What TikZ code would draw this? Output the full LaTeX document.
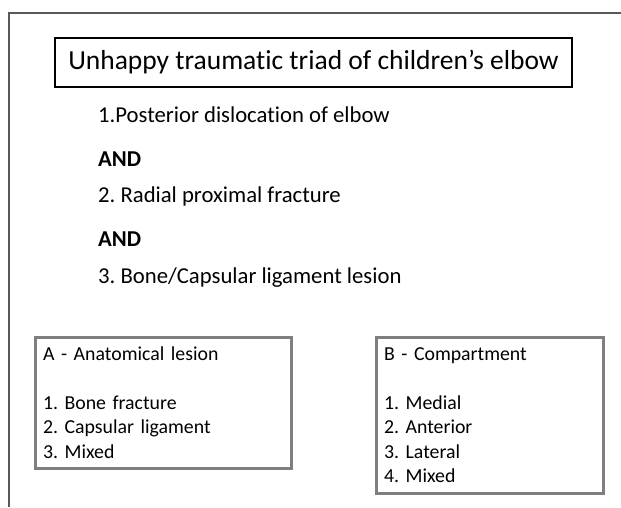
\documentclass[tikz,border=0pt]{standalone}
\usepackage{fontspec}
\setmainfont{Carlito}[Ligatures=NoCommon]
\usepackage{tikz}
\usetikzlibrary{positioning}
\definecolor{frame-gray}{HTML}{595959}
\definecolor{box-gray}{HTML}{7F7F7F}
\frenchspacing

\begin{document}
\begin{tikzpicture}[
    x=1pt, y=-1pt,
    titlebox/.style={draw=black, line width=2.5pt, minimum width=517pt, minimum height=49pt,
                     inner sep=0pt, font=\fontsize{27.5}{33}\selectfont},
    item/.style={anchor=base west, inner sep=0pt, font=\fontsize{22.7}{27}\selectfont},
    andlbl/.style={item, font=\fontsize{22.7}{27}\selectfont\bfseries},
    listbox/.style={draw=box-gray, line width=3pt, anchor=north west, align=left,
                    inner xsep=7.5pt, font=\fontsize{19.8}{24.5}\selectfont},
]
    \useasboundingbox (0,0) rectangle (621,507);

    % Frame
    \coordinate (fbot) at (9,507);
    \coordinate (fcorner) at (9,13);
    \coordinate (fright) at (621,13);
    \draw[frame-gray, line width=1.2pt] (fbot) -- (fcorner) -- (fright);

    % Title
    \node[titlebox] (title) at (313.5,62.5) {Unhappy traumatic triad of children’s elbow};

    % Triad
    \node[item]    (first)  at (98,122) {1.Posterior dislocation of elbow};
    \node[andlbl]  (and1)   at (98,166) {AND};
    \node[item]    (second) at (98,202) {2. Radial proximal fracture};
    \node[andlbl]  (and2)   at (98,246) {AND};
    \node[item]    (third)  at (98,283) {3. Bone/Capsular ligament lesion};

    % Classification boxes
    \node[listbox, minimum width=256pt, minimum height=131pt, text width=240pt]
        (anat) at (33.5,335.5) {A - Anatomical lesion\\[24.5pt]1. Bone fracture\\2. Capsular ligament\\3. Mixed};
    \node[listbox, minimum width=227pt, minimum height=156pt, text width=211pt]
        (comp) at (374.5,335.5) {B - Compartment\\[24.5pt]1. Medial\\2. Anterior\\3. Lateral\\4. Mixed};
\end{tikzpicture}
\end{document}
